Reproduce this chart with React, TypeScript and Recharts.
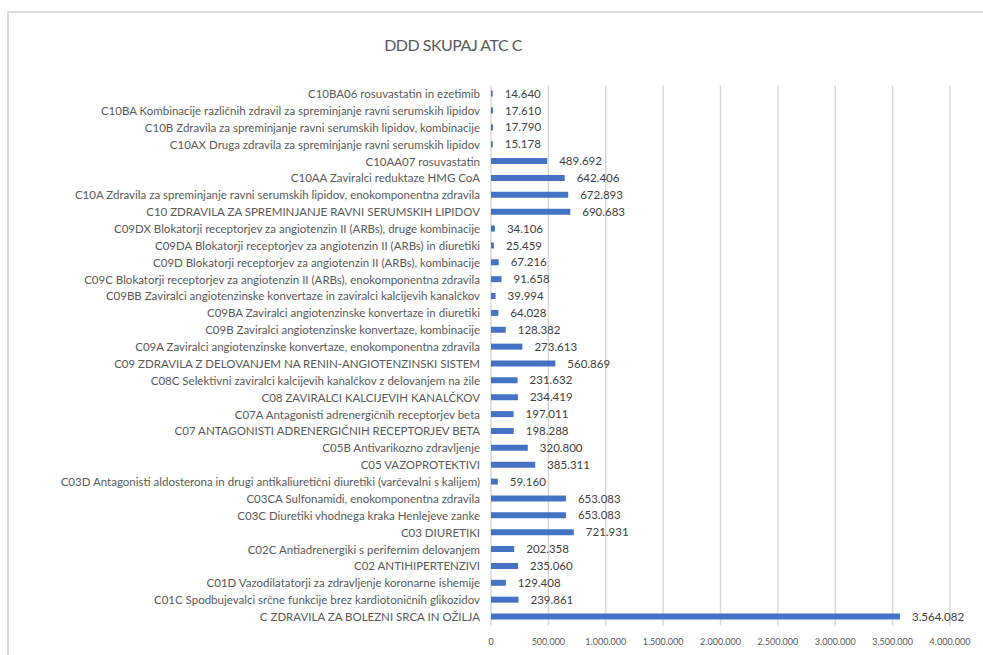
import { BarChart, Bar, XAxis, YAxis, CartesianGrid, LabelList } from "recharts";

const categories = [
  "C10BA06 rosuvastatin in ezetimib",
  "C10BA Kombinacije različnih zdravil za spreminjanje ravni serumskih lipidov",
  "C10B Zdravila za spreminjanje ravni serumskih lipidov, kombinacije",
  "C10AX Druga zdravila za spreminjanje ravni serumskih lipidov",
  "C10AA07 rosuvastatin",
  "C10AA Zaviralci reduktaze HMG CoA",
  "C10A Zdravila za spreminjanje ravni serumskih lipidov, enokomponentna zdravila",
  "C10 ZDRAVILA ZA SPREMINJANJE RAVNI SERUMSKIH LIPIDOV",
  "C09DX Blokatorji receptorjev za angiotenzin II (ARBs), druge kombinacije",
  "C09DA Blokatorji receptorjev za angiotenzin II (ARBs) in diuretiki",
  "C09D Blokatorji receptorjev za angiotenzin II (ARBs), kombinacije",
  "C09C Blokatorji receptorjev za angiotenzin II (ARBs), enokomponentna zdravila",
  "C09BB Zaviralci angiotenzinske konvertaze in zaviralci kalcijevih kanalčkov",
  "C09BA Zaviralci angiotenzinske konvertaze in diuretiki",
  "C09B Zaviralci angiotenzinske konvertaze, kombinacije",
  "C09A Zaviralci angiotenzinske konvertaze, enokomponentna zdravila",
  "C09 ZDRAVILA Z DELOVANJEM NA RENIN-ANGIOTENZINSKI SISTEM",
  "C08C Selektivni zaviralci kalcijevih kanalčkov z delovanjem na žile",
  "C08 ZAVIRALCI KALCIJEVIH KANALČKOV",
  "C07A Antagonisti adrenergičnih receptorjev beta",
  "C07 ANTAGONISTI ADRENERGIČNIH RECEPTORJEV BETA",
  "C05B Antivarikozno zdravljenje",
  "C05 VAZOPROTEKTIVI",
  "C03D Antagonisti aldosterona in drugi antikaliuretični diuretiki (varčevalni s kalijem)",
  "C03CA Sulfonamidi, enokomponentna zdravila",
  "C03C Diuretiki vhodnega kraka Henlejeve zanke",
  "C03 DIURETIKI",
  "C02C Antiadrenergiki s perifernim delovanjem",
  "C02 ANTIHIPERTENZIVI",
  "C01D Vazodilatatorji za zdravljenje koronarne ishemije",
  "C01C Spodbujevalci srčne funkcije brez kardiotoničnih glikozidov",
  "C ZDRAVILA ZA BOLEZNI SRCA IN OŽILJA",
];

const dddValues = [
  14640, 17610, 17790, 15178, 489692, 642406, 672893, 690683, 34106, 25459,
  67216, 91658, 39994, 64028, 128382, 273613, 560869, 231632, 234419, 197011,
  198288, 320800, 385311, 59160, 653083, 653083, 721931, 202358, 235060,
  129408, 239861, 3564082,
];

const xTicks = [0, 500000, 1000000, 1500000, 2000000, 2500000, 3000000, 3500000, 4000000];

const data = categories.map((name, i) => ({ name, value: dddValues[i] }));

// thousands with dots, like the Slovenian Excel format
const fmt = (v: number) => String(v).replace(/\B(?=(\d{3})+(?!\d))/g, ".");

const font = "Lato, 'Open Sans', sans-serif";

// single-line category label (default tick wraps long names)
function CategoryTick(props: any) {
  const { x, y, payload } = props;
  return (
    <text x={x} y={y} dy="0.35em" textAnchor="end" fontSize={11.5} fill="#595959" fontFamily={font}>
      {payload.value}
    </text>
  );
}

export default function App() {
  return (
    <div style={{ position: "absolute", left: 0, top: 0, width: 983, height: 655, background: "#fff", fontFamily: font }}>
      {/* chart frame */}
      <div
        style={{
          position: "absolute",
          left: 7,
          top: 11,
          width: 976,
          height: 644,
          borderLeft: "2px solid #d9d9d9",
          borderTop: "2px solid #d9d9d9",
          boxSizing: "border-box",
        }}
      />
      <div
        style={{
          position: "absolute",
          left: 0,
          top: 35,
          width: 906,
          textAlign: "center",
          fontSize: 16,
          letterSpacing: -0.5,
          color: "#595959",
        }}
      >
        DDD SKUPAJ ATC C
      </div>
      <div style={{ position: "absolute", left: 0, top: 0 }}>
        <BarChart
          width={983}
          height={655}
          data={data}
          layout="vertical"
          margin={{ top: 85.6, right: 33, bottom: 4.6, left: 0 }}
          barCategoryGap={0}
        >
          <CartesianGrid horizontal={false} vertical stroke="#d9d9d9" strokeWidth={1.5} />
          <XAxis
            type="number"
            domain={[0, 4000000]}
            ticks={xTicks}
            tickFormatter={fmt}
            axisLine={false}
            tickLine={false}
            tickMargin={7}
            height={25}
            interval={0}
            tick={{ fontSize: 9, fill: "#595959", fontFamily: font }}
          />
          <YAxis
            type="category"
            dataKey="name"
            width={491}
            axisLine={false}
            tickLine={false}
            tickSize={0}
            tickMargin={11}
            interval={0}
            tick={<CategoryTick />}
          />
          <Bar dataKey="value" fill="#4472c4" barSize={6} isAnimationActive={false}>
            <LabelList
              dataKey="value"
              position="right"
              offset={12}
              formatter={(v: number) => fmt(v)}
              style={{ fontSize: 11.5, fill: "#404040", fontFamily: font }}
            />
          </Bar>
        </BarChart>
      </div>
    </div>
  );
}
